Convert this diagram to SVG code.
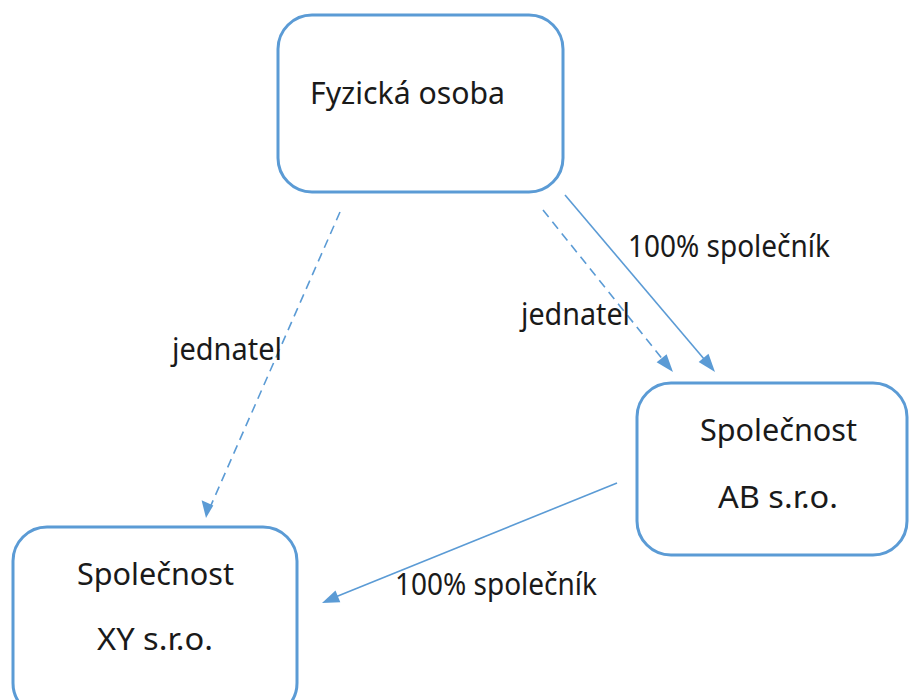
<svg xmlns="http://www.w3.org/2000/svg" width="910" height="700" viewBox="0 0 910 700">
  <style>
    .box { fill: #ffffff; stroke: #5B9BD5; stroke-width: 3; }
    .link { fill: none; stroke: #5B9BD5; stroke-width: 1.6; }
    .dash { stroke-dasharray: 9 6; }
    .head { fill: #5B9BD5; }
    .lbl { font-family: "Noto Sans", "Open Sans", sans-serif; font-size: 30px; fill: #1a1a1a; }
  </style>
  <rect width="910" height="700" fill="#ffffff"/>

  <g id="connectors">
    <line class="link dash" x1="340" y1="212" x2="208" y2="512"/>
    <line class="link dash" x1="543" y1="210" x2="668" y2="366"/>
    <line class="link" x1="565" y1="195" x2="710" y2="366"/>
    <line class="link" x1="617" y1="483" x2="328" y2="600"/>
    <!-- arrowheads -->
    <polygon class="head" points="206,518 201.6,500.3 213.3,505.4"/>
    <polygon class="head" points="673,372 656.6,362.2 666.6,354.2"/>
    <polygon class="head" points="715,372 698.7,362.0 708.5,353.7"/>
    <polygon class="head" points="322,603 335.5,590.5 340.3,602.3"/>
    <text class="lbl" x="628" y="257" textLength="202" lengthAdjust="spacingAndGlyphs">100% společník</text>
    <text class="lbl" x="521" y="325" textLength="109" lengthAdjust="spacingAndGlyphs">jednatel</text>
    <text class="lbl" x="172" y="360" textLength="110" lengthAdjust="spacingAndGlyphs">jednatel</text>
    <text class="lbl" x="395" y="595" textLength="202" lengthAdjust="spacingAndGlyphs">100% společník</text>
  </g>

  <g id="fyzicka-osoba">
    <rect class="box" x="278" y="15" width="285" height="177" rx="34"/>
    <text class="lbl" x="310" y="104" textLength="195" lengthAdjust="spacingAndGlyphs">Fyzická osoba</text>
  </g>

  <g id="spolecnost-ab">
    <rect class="box" x="637" y="383" width="270" height="172" rx="34"/>
    <text class="lbl" x="700" y="441" textLength="157" lengthAdjust="spacingAndGlyphs">Společnost</text>
    <text class="lbl" x="718" y="508" textLength="120" lengthAdjust="spacingAndGlyphs">AB s.r.o.</text>
  </g>

  <g id="spolecnost-xy">
    <rect class="box" x="13" y="527" width="284" height="190" rx="34"/>
    <text class="lbl" x="77" y="585" textLength="157" lengthAdjust="spacingAndGlyphs">Společnost</text>
    <text class="lbl" x="97" y="650" textLength="116" lengthAdjust="spacingAndGlyphs">XY s.r.o.</text>
  </g>
</svg>
